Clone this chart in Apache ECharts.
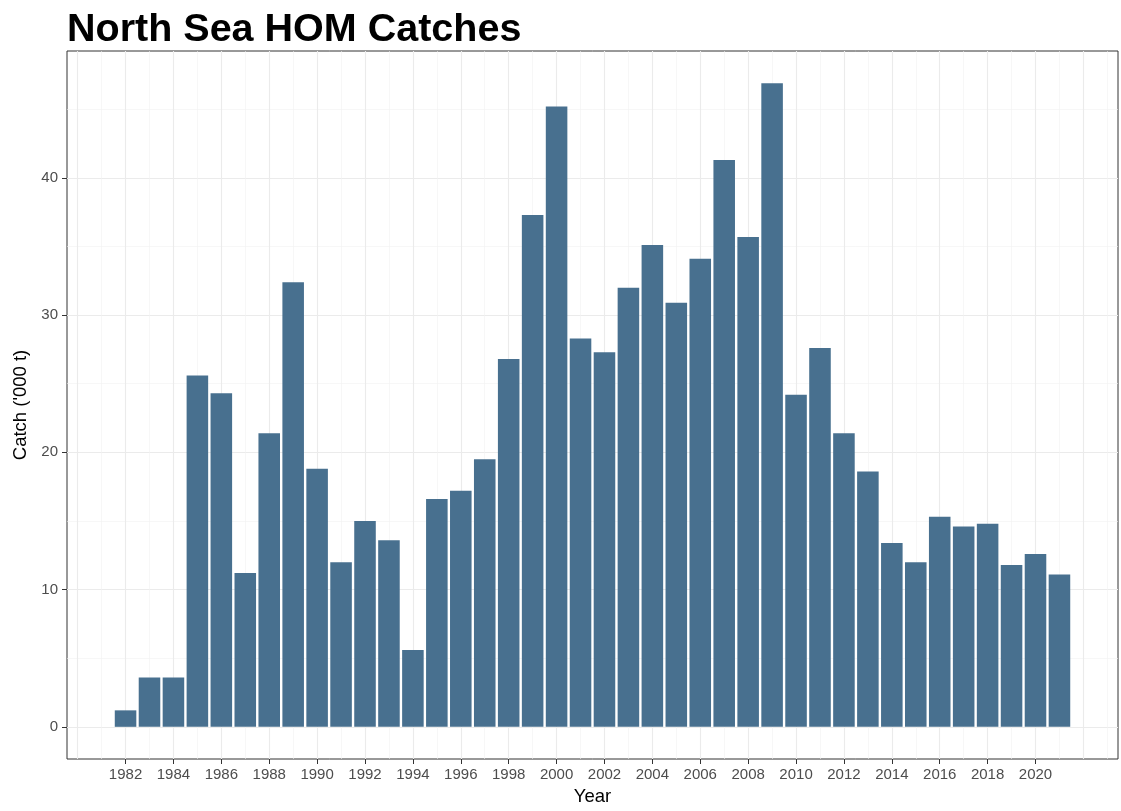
<!DOCTYPE html>
<html>
<head>
<meta charset="utf-8">
<script src="https://cdn.jsdelivr.net/npm/echarts@6/dist/echarts.min.js"></script>
<style>
html,body{margin:0;padding:0;background:#fff;}
#chart{width:1121px;height:811px;}
</style>
</head>
<body>
<div id="chart"></div>
<script>
const years = [1982,1983,1984,1985,1986,1987,1988,1989,1990,1991,1992,1993,1994,1995,1996,1997,1998,1999,2000,2001,2002,2003,2004,2005,2006,2007,2008,2009,2010,2011,2012,2013,2014,2015,2016,2017,2018,2019,2020,2021];
const catches = [1.2,3.6,3.6,25.6,24.3,11.2,21.4,32.4,18.8,12.0,15.0,13.6,5.6,16.6,17.2,19.5,26.8,37.3,45.2,28.3,27.3,32.0,35.1,30.9,34.1,41.3,35.7,46.9,24.2,27.6,21.4,18.6,13.4,12.0,15.3,14.6,14.8,11.8,12.6,11.1];
const xTickLabels = [1982,1984,1986,1988,1990,1992,1994,1996,1998,2000,2002,2004,2006,2008,2010,2012,2014,2016,2018,2020];
const xMajorGrid = [1980,1982,1984,1986,1988,1990,1992,1994,1996,1998,2000,2002,2004,2006,2008,2010,2012,2014,2016,2018,2020,2022];
const xMinorGrid = [1981,1983,1985,1987,1989,1991,1993,1995,1997,1999,2001,2003,2005,2007,2009,2011,2013,2015,2017,2019,2021,2023];
const yTickLabels = [0,10,20,30,40];
const yMinorGrid = [5,15,25,35,45];

const title = 'North Sea HOM Catches';
const xTitle = 'Year';
const yTitle = "Catch ('000 t)";

// ggplot-like expansion (5%) computed from the data
const barW = 0.9;
const xLo = Math.min(...years) - barW/2, xHi = Math.max(...years) + barW/2;
const xPad = (xHi - xLo) * 0.05;
const xMin = xLo - xPad, xMax = xHi + xPad;
const yTop = Math.max(...catches);
const yPad = yTop * 0.05;
const yMin = -yPad, yMax = yTop + yPad;

const FONT = 'Liberation Sans, Arial, sans-serif';
const gridMajor = {show:true, lineStyle:{color:'#EBEBEB', width:1.1}};
const gridMinor = {show:true, lineStyle:{color:'#F2F2F2', width:0.6}};

const chart = echarts.init(document.getElementById('chart'), null, {renderer:'canvas'});

chart.setOption({
  backgroundColor:'#ffffff',
  animation:false,
  title:{
    text:title, left:67, top:10, padding:0,
    textStyle:{fontFamily:FONT, fontSize:39.5, fontWeight:'bold', color:'#000'}
  },
  grid:{left:67, right:3, top:51, bottom:52, containLabel:false, outerBoundsMode:'none',
        show:true, borderColor:'#333333', borderWidth:1, backgroundColor:'#ffffff'},
  xAxis:[
    {type:'value', min:xMin, max:xMax, position:'bottom',
     name:xTitle, nameLocation:'middle', nameGap:28,
     nameTextStyle:{fontFamily:FONT, fontSize:18.5, color:'#000'},
     axisLine:{show:false, onZero:false},
     axisTick:{show:true, length:5, customValues:xTickLabels, lineStyle:{color:'#333333', width:1}},
     axisLabel:{show:true, customValues:xTickLabels, margin:8, fontFamily:FONT, fontSize:15, color:'#4D4D4D', formatter:v=>String(v)},
     splitLine:{show:false}},
    {type:'value', min:xMin, max:xMax, position:'bottom',
     axisTick:{show:false, customValues:xMajorGrid}, axisLabel:{show:false, customValues:xMajorGrid},
     axisLine:{show:false, onZero:false}, splitLine:gridMajor},
    {type:'value', min:xMin, max:xMax, position:'bottom',
     axisTick:{show:false, customValues:xMinorGrid}, axisLabel:{show:false, customValues:xMinorGrid},
     axisLine:{show:false, onZero:false}, splitLine:gridMinor}
  ],
  yAxis:[
    {type:'value', min:yMin, max:yMax, position:'left',
     name:yTitle, nameLocation:'middle', nameGap:36, nameRotate:90,
     nameTextStyle:{fontFamily:FONT, fontSize:18.5, color:'#000'},
     axisLine:{show:false, onZero:false},
     axisTick:{show:true, length:5, customValues:yTickLabels, lineStyle:{color:'#333333', width:1}},
     axisLabel:{show:true, customValues:yTickLabels, margin:9, fontFamily:FONT, fontSize:15, color:'#4D4D4D', formatter:v=>String(v)},
     splitLine:gridMajor},
    {type:'value', min:yMin, max:yMax, position:'left',
     axisTick:{show:false, customValues:yMinorGrid}, axisLabel:{show:false, customValues:yMinorGrid},
     axisLine:{show:false, onZero:false}, splitLine:gridMinor}
  ],
  series:[{
    type:'bar', xAxisIndex:0, yAxisIndex:0,
    data: years.map((y,i)=>[y, catches[i]]),
    barWidth:'90%',
    itemStyle:{color:'#48708F'},
    z:3
  }]
});
</script>
</body>
</html>
